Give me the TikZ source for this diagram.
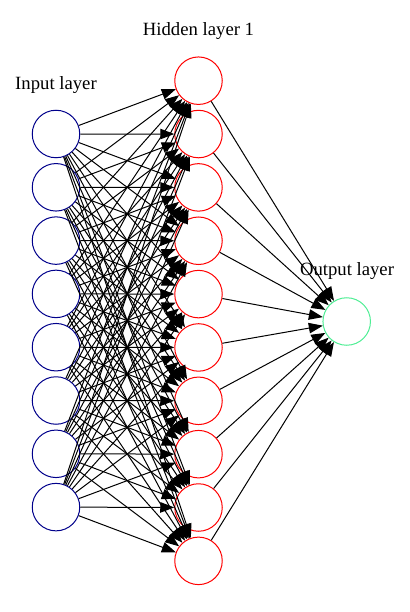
\documentclass[tikz,border=0pt]{standalone}
\usepackage{fontspec}
\setmainfont{Liberation Serif}
\usetikzlibrary{arrows.meta}
\definecolor{inblue}{HTML}{00008B}
\definecolor{hidred}{HTML}{FF0000}
\definecolor{outgreen}{HTML}{4EEE94}
\tikzset{
  neuron/.style={circle, draw, line width=1pt, minimum size=47.5pt, inner sep=0pt, fill=white},
  innode/.style={neuron, draw=inblue},
  hidnode/.style={neuron, draw=hidred},
  outnode/.style={neuron, draw=outgreen},
  layerlabel/.style={font=\fontsize{18.7pt}{21pt}\selectfont, inner sep=0pt},
  link/.style={line width=1pt, -{Triangle[length=14pt,width=10.5pt]}}
}
\begin{document}
\begin{tikzpicture}[x=1pt, y=-1pt]
  \useasboundingbox (0,0) rectangle (409,612);
  % input layer
  \foreach \i in {1,...,8} {
    \node[innode] (i\i) at (56, {134 + (\i-1)*53.3}) {};
  }
  % hidden layer
  \foreach \j in {1,...,10} {
    \node[hidnode] (h\j) at (198.5, {80.7 + (\j-1)*53.35}) {};
  }
  % output layer
  \node[outnode] (o) at (346.7, 321.5) {};
  % labels
  \node[layerlabel] (lin) at (56, 85) {Input layer};
  \node[layerlabel] (lhid) at (198.5, 31) {Hidden layer 1};
  \node[layerlabel] (lout) at (347, 271) {Output layer};
  % connections
  \foreach \i in {1,...,8} {
    \foreach \j in {1,...,10} {
      \draw[link] (i\i) -- (h\j);
    }
  }
  \foreach \j in {1,...,10} {
    \draw[link] (h\j) -- (o);
  }
\end{tikzpicture}
\end{document}
